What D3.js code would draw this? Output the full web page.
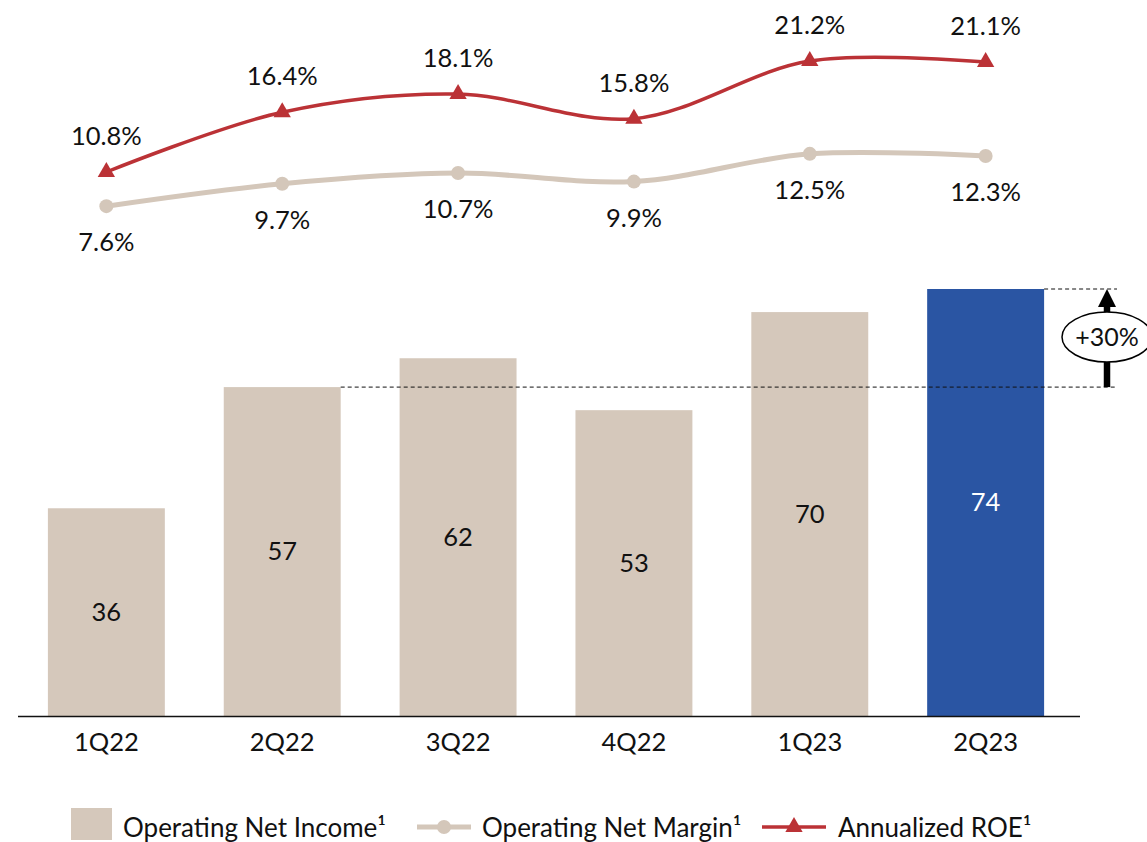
<!DOCTYPE html>
<html>
<head>
<meta charset="utf-8">
<style>
  body { margin: 0; background: #fff; font-family: Lato, 'Open Sans', sans-serif; }
  text { fill: #111; }
</style>
</head>
<body>
<svg width="1147" height="842"></svg>
<script src="https://d3js.org/d3.v7.min.js"></script>
<script>
  // data
  var quarters = ["1Q22", "2Q22", "3Q22", "4Q22", "1Q23", "2Q23"];
  var netIncome = [36, 57, 62, 53, 70, 74];
  var netMargin = [7.6, 9.7, 10.7, 9.9, 12.5, 12.3];
  var roe = [10.8, 16.4, 18.1, 15.8, 21.2, 21.1];
  var legendLabels = ["Operating Net Income\u00b9", "Operating Net Margin\u00b9", "Annualized ROE\u00b9"];

  var beige = "#d5c8bb", blue = "#2a55a3", red = "#bb3236", lineBeige = "#d4c7ba";
  var fs = 25.5;

  var svg = d3.select("svg");

  var x = d3.scaleBand()
    .domain(quarters)
    .range([18, 1074])
    .paddingInner(0.335)
    .paddingOuter(0.17);

  // bar scale
  var y = d3.scaleLinear().domain([0, 74]).range([716, 289]);
  // percent scale for both lines
  var yp = d3.scaleLinear().domain([10.8, 21.2]).range([172, 61]);

  var cx = function(d) { return x(d) + x.bandwidth() / 2; };

  // bars
  svg.append("g")
    .selectAll("rect")
    .data(netIncome)
    .enter().append("rect")
    .attr("x", function(d, i) { return x(quarters[i]); })
    .attr("y", function(d) { return y(d); })
    .attr("width", x.bandwidth())
    .attr("height", function(d) { return y(0) - y(d); })
    .attr("fill", function(d, i) { return i == quarters.length - 1 ? blue : beige; });

  svg.append("g")
    .selectAll("text")
    .data(netIncome)
    .enter().append("text")
    .attr("x", function(d, i) { return cx(quarters[i]); })
    .attr("y", function(d) { return (y(d) + y(0)) / 2; })
    .attr("dy", "0.35em")
    .attr("text-anchor", "middle")
    .attr("font-size", fs)
    .style("fill", function(d, i) { return i == quarters.length - 1 ? "#fff" : "#111"; })
    .text(function(d) { return d; });

  // x axis
  var xAxis = svg.append("g")
    .attr("transform", "translate(0," + y(0) + ")")
    .call(d3.axisBottom(x).tickSize(0).tickPadding(17));
  xAxis.select(".domain").attr("d", "M18,0.5H1080").attr("stroke", "#111").attr("stroke-width", 1.5);
  xAxis.selectAll("text").attr("font-size", fs).attr("font-family", "Lato, 'Open Sans', sans-serif").style("fill", "#111");

  // lines
  var line = d3.line()
    .x(function(d, i) { return cx(quarters[i]); })
    .y(function(d) { return yp(d); })
    .curve(d3.curveCatmullRom.alpha(0.5));

  svg.append("path")
    .datum(netMargin)
    .attr("d", line)
    .attr("fill", "none")
    .attr("stroke", lineBeige)
    .attr("stroke-width", 5);

  svg.append("g")
    .selectAll("circle")
    .data(netMargin)
    .enter().append("circle")
    .attr("cx", function(d, i) { return cx(quarters[i]); })
    .attr("cy", function(d) { return yp(d); })
    .attr("r", 7)
    .attr("fill", lineBeige);

  svg.append("g")
    .selectAll("text")
    .data(netMargin)
    .enter().append("text")
    .attr("x", function(d, i) { return cx(quarters[i]); })
    .attr("y", function(d) { return yp(d) + 36; })
    .attr("dy", "0.35em")
    .attr("text-anchor", "middle")
    .attr("font-size", fs)
    .text(function(d) { return d.toFixed(1) + "%"; });

  svg.append("path")
    .datum(roe)
    .attr("d", line)
    .attr("fill", "none")
    .attr("stroke", red)
    .attr("stroke-width", 3.5);

  var tri = d3.symbol().type(d3.symbolTriangle).size(130);
  svg.append("g")
    .selectAll("path")
    .data(roe)
    .enter().append("path")
    .attr("d", tri)
    .attr("transform", function(d, i) { return "translate(" + cx(quarters[i]) + "," + yp(d) + ")"; })
    .attr("fill", red);

  svg.append("g")
    .selectAll("text")
    .data(roe)
    .enter().append("text")
    .attr("x", function(d, i) { return cx(quarters[i]); })
    .attr("y", function(d) { return yp(d) - 36; })
    .attr("dy", "0.35em")
    .attr("text-anchor", "middle")
    .attr("font-size", fs)
    .text(function(d) { return d.toFixed(1) + "%"; });

  // growth annotation 2Q22 -> 2Q23
  var yLow = y(netIncome[1]), yHigh = y(netIncome[5]);
  var ax = 1107;
  svg.append("line")
    .attr("x1", x(quarters[1]) + x.bandwidth()).attr("x2", 1117)
    .attr("y1", yLow).attr("y2", yLow)
    .attr("stroke", "#111").attr("stroke-dasharray", "4,3");
  svg.append("line")
    .attr("x1", x(quarters[5]) + x.bandwidth()).attr("x2", 1117)
    .attr("y1", yHigh).attr("y2", yHigh)
    .attr("stroke", "#111").attr("stroke-dasharray", "4,3");
  svg.append("line")
    .attr("x1", ax).attr("x2", ax)
    .attr("y1", yLow).attr("y2", yHigh + 14)
    .attr("stroke", "#000").attr("stroke-width", 6.5);
  svg.append("path")
    .attr("d", "M" + (ax - 9) + "," + (yHigh + 18) + "L" + ax + "," + yHigh + "L" + (ax + 9) + "," + (yHigh + 18) + "Z")
    .attr("fill", "#000");
  var my = (yLow + yHigh) / 2;
  svg.append("ellipse")
    .attr("cx", ax).attr("cy", my - 1)
    .attr("rx", 45).attr("ry", 25)
    .attr("fill", "#fff").attr("stroke", "#000").attr("stroke-width", 1.5);
  svg.append("text")
    .attr("x", ax).attr("y", my - 1).attr("dy", "0.35em")
    .attr("text-anchor", "middle").attr("font-size", 25)
    .text("+" + Math.round((netIncome[5] / netIncome[1] - 1) * 100) + "%");

  // legend
  var lg = svg.append("g").attr("font-size", 26);
  lg.append("rect").attr("x", 71).attr("y", 808).attr("width", 41).attr("height", 32).attr("fill", beige);
  lg.append("text").attr("x", 123).attr("y", 828).attr("dy", "0.35em").text(legendLabels[0]);
  lg.append("line").attr("x1", 417).attr("x2", 471).attr("y1", 827).attr("y2", 827)
    .attr("stroke", lineBeige).attr("stroke-width", 5);
  lg.append("circle").attr("cx", 444).attr("cy", 827).attr("r", 7).attr("fill", lineBeige);
  lg.append("text").attr("x", 482).attr("y", 828).attr("dy", "0.35em").text(legendLabels[1]);
  lg.append("line").attr("x1", 762).attr("x2", 826).attr("y1", 827).attr("y2", 827)
    .attr("stroke", red).attr("stroke-width", 3.5);
  lg.append("path").attr("d", tri).attr("transform", "translate(794,827)").attr("fill", red);
  lg.append("text").attr("x", 838).attr("y", 828).attr("dy", "0.35em").text(legendLabels[2]);
</script>
</body>
</html>
